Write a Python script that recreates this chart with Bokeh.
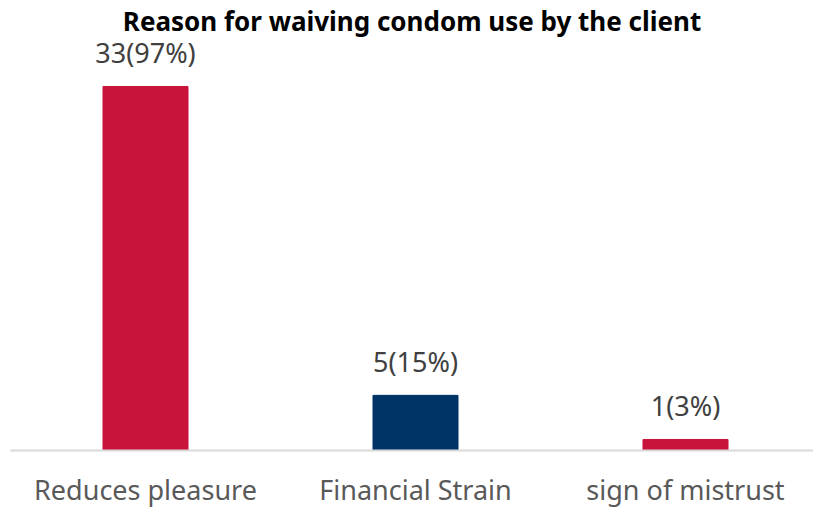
from bokeh.plotting import figure
from bokeh.models import ColumnDataSource, Range1d, FixedTicker
from bokeh.core.properties import value
from bokeh.embed import file_html
from bokeh.resources import INLINE

categories = ["Reduces pleasure", "Financial Strain", "sign of mistrust"]
counts = [33, 5, 1]
percents = [97, 15, 3]
colors = ["#C8133B", "#003366", "#C8133B"]

xs = [i + 0.5 for i in range(len(categories))]
labels = [f"{c}({p}%)" for c, p in zip(counts, percents)]
src = ColumnDataSource(dict(x=xs, top=counts, color=colors, label=labels))

FONT = "Noto Sans"
p = figure(width=813, height=510, output_backend="svg", toolbar_location=None,
           x_range=Range1d(0, 803 / 270), y_range=Range1d(0, 37.35),
           min_border_left=10, min_border_right=0, min_border_top=0, min_border_bottom=59)
p.title.text = "Reason for waiving condom use by the client"
p.title.align = "center"
p.title.text_font = FONT
p.title.text_font_size = "26px"
p.title.text_font_style = "bold"
p.title.text_color = "#000000"
p.title.offset = 0
p.title.standoff = 0

p.vbar(x="x", top="top", bottom=0, width=85 / 270, color="color", source=src)
p.text(x="x", y="top", text="label", source=src, text_align="center", text_baseline="bottom",
       y_offset=-15, text_font=value(FONT), text_font_size="27px", text_color="#404040")

p.yaxis.visible = False
p.xgrid.visible = False
p.ygrid.visible = False
p.outline_line_color = None
p.xaxis.ticker = FixedTicker(ticks=xs)
p.xaxis.major_label_overrides = {x: c for x, c in zip(xs, categories)}
p.xaxis.major_tick_line_color = None
p.xaxis.minor_tick_line_color = None
p.xaxis.axis_line_color = "#D9D9D9"
p.xaxis.axis_line_width = 2
p.xaxis.major_label_text_font = FONT
p.xaxis.major_label_text_font_size = "27px"
p.xaxis.major_label_text_color = "#595959"
p.xaxis.major_label_text_line_height = 1.0
p.xaxis.major_label_standoff = 14

open("out.html", "w").write(file_html(p, INLINE))
